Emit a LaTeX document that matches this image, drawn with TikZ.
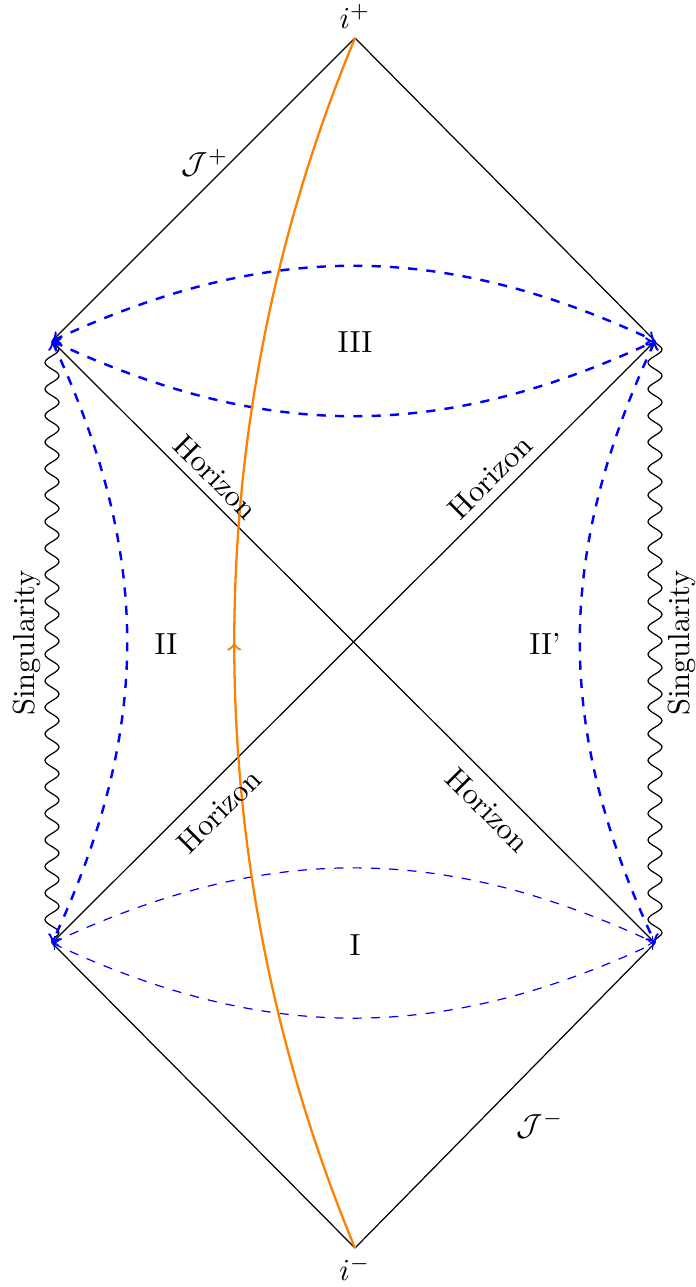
\documentclass[tikz,border=0pt]{standalone}
\usetikzlibrary{decorations.pathmorphing,decorations.markings}
\begin{document}
\begin{tikzpicture}[x=0.328pt,y=-0.328pt,
  edge/.style={black, line width=0.4pt},
  sing/.style={black, line width=0.4pt, decorate, decoration={snake, amplitude=2.3pt, segment length=8.7pt}},
  slicethick/.style={blue, dashed, line width=0.8pt, <->, >=to},
  slicethin/.style={blue, dashed, line width=0.4pt, <->, >=to},
  world/.style={orange, line width=0.75pt, postaction={decorate}, decoration={markings, mark=at position 0.5 with {\arrow{>}}}},
  lab/.style={inner sep=1pt}]
\useasboundingbox (0,0) rectangle (695,1287);
\coordinate (ip) at (355,38);
\coordinate (im) at (355,1248);
\coordinate (lu) at (52,341);
\coordinate (ru) at (655,341);
\coordinate (ll) at (52,943);
\coordinate (rl) at (655,943);
% light-cone edges
\draw[edge] (ip) -- (lu);
\draw[edge] (ip) -- (ru);
\draw[edge] (lu) -- (rl);
\draw[edge] (ru) -- (ll);
\draw[edge] (ll) -- (im);
\draw[edge] (rl) -- (im);
% singularities
\draw[sing] (lu) -- (ll);
\draw[sing] (ru) -- (rl);
% slices
\draw[slicethick] (lu) .. controls +(214,-100) and +(-214,-100) .. (ru);
\draw[slicethick] (lu) .. controls +(214,100) and +(-214,100) .. (ru);
\draw[slicethick] (lu) .. controls +(100,214) and +(100,-214) .. (ll);
\draw[slicethick] (ru) .. controls +(-100,214) and +(-100,-214) .. (rl);
\draw[slicethin] (ll) .. controls +(214,-100) and +(-214,-100) .. (rl);
\draw[slicethin] (ll) .. controls +(214,100) and +(-214,100) .. (rl);
% worldline
\draw[world] (im) .. controls (194,861) and (194,425) .. (ip);
% labels
\node[lab] (lip) at (355,16) {$i^+$};
\node[lab] (lim) at (355,1268) {$i^-$};
\node[lab] (jp) at (205,163) {$\mathcal{J}^+$};
\node[lab] (jm) at (540,1125) {$\mathcal{J}^-$};
\node[lab] (r3) at (355,342) {III};
\node[lab] (r2) at (166,644) {II};
\node[lab] (r2p) at (545,644) {II'};
\node[lab] (r1) at (355,945) {I};
\node[lab, rotate=-45] (h1) at (216,477) {Horizon};
\node[lab, rotate=45] (h2) at (490,477) {Horizon};
\node[lab, rotate=45] (h3) at (219,811) {Horizon};
\node[lab, rotate=-45] (h4) at (488,810) {Horizon};
\node[lab, rotate=90] (s1) at (27,643) {Singularity};
\node[lab, rotate=90] (s2) at (682,643) {Singularity};
\end{tikzpicture}
\end{document}
